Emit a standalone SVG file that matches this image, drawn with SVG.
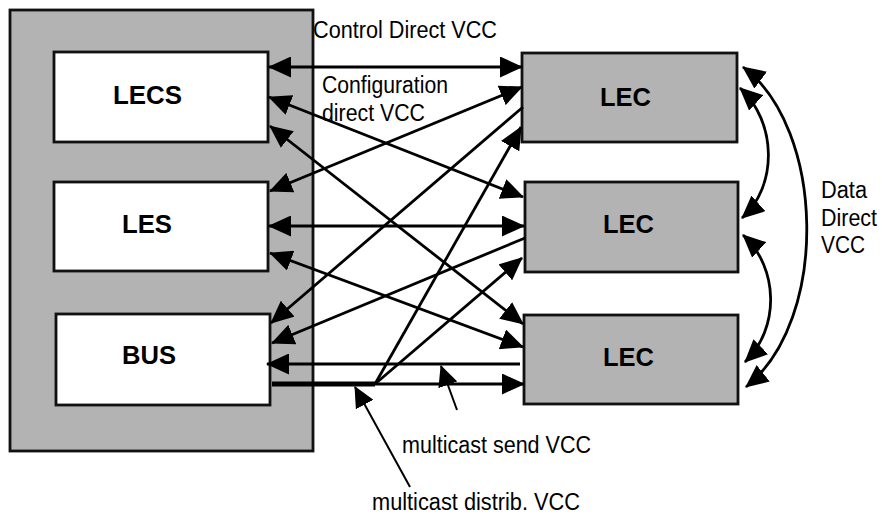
<svg xmlns="http://www.w3.org/2000/svg" width="882" height="525" viewBox="0 0 882 525">
  <style>
    .box { fill: #ffffff; stroke: #111111; stroke-width: 2.8; }
    .gbox { fill: #b3b3b3; stroke: #111111; stroke-width: 2.8; }
    .name { font-family: "Liberation Sans", Arial, sans-serif; font-weight: bold; font-size: 26px; fill: #000; }
    .lbl { font-family: "Liberation Sans", Arial, sans-serif; font-size: 23.5px; fill: #000; }
    .ln { fill: none; stroke: #000; stroke-width: 2.8; }
    .two { marker-start: url(#ah); marker-end: url(#ah); }
    .one { marker-end: url(#ah); }
    .ptr { fill: none; stroke: #000; stroke-width: 2; marker-end: url(#ahs); }
  </style>
  <defs>
    <marker id="ah" viewBox="0 0 23 21" refX="22" refY="10.5" markerWidth="23" markerHeight="21" markerUnits="userSpaceOnUse" orient="auto-start-reverse">
      <path d="M0,0 L23,10.5 L0,21 z" fill="#000"/>
    </marker>
    <marker id="ahs" viewBox="0 0 21 20" refX="20" refY="10" markerWidth="21" markerHeight="20" markerUnits="userSpaceOnUse" orient="auto">
      <path d="M0,0 L21,10 L0,20 z" fill="#000"/>
    </marker>
  </defs>

  <!-- server host frame -->
  <g id="server-host">
    <rect class="gbox" x="10" y="10" width="303" height="441"/>
  </g>

  <g id="lecs">
    <rect class="box" x="54" y="52" width="214" height="90"/>
    <text class="name" x="113" y="104" textLength="69" lengthAdjust="spacingAndGlyphs">LECS</text>
  </g>
  <g id="les">
    <rect class="box" x="54" y="182" width="214" height="89"/>
    <text class="name" x="122" y="233" textLength="50" lengthAdjust="spacingAndGlyphs">LES</text>
  </g>
  <g id="bus">
    <rect class="box" x="56" y="314" width="214" height="91"/>
    <text class="name" x="122" y="364" textLength="54" lengthAdjust="spacingAndGlyphs">BUS</text>
  </g>

  <g id="lec1">
    <rect class="gbox" x="522" y="53" width="215" height="89"/>
    <text class="name" x="600" y="106" textLength="51" lengthAdjust="spacingAndGlyphs">LEC</text>
  </g>
  <g id="lec2">
    <rect class="gbox" x="525" y="182" width="213" height="90"/>
    <text class="name" x="603" y="233" textLength="51" lengthAdjust="spacingAndGlyphs">LEC</text>
  </g>
  <g id="lec3">
    <rect class="gbox" x="524" y="315" width="214" height="89"/>
    <text class="name" x="603" y="366" textLength="51" lengthAdjust="spacingAndGlyphs">LEC</text>
  </g>

  <g id="connectors">
    <!-- LECS links -->
    <line class="ln two" x1="269" y1="67" x2="522" y2="67"/>
    <line class="ln two" x1="269" y1="97" x2="523" y2="197"/>
    <line class="ln two" x1="270" y1="126" x2="523" y2="324"/>
    <!-- LES links -->
    <line class="ln two" x1="270" y1="191" x2="522" y2="87"/>
    <line class="ln two" x1="269" y1="226" x2="524" y2="226"/>
    <line class="ln two" x1="270" y1="253" x2="523" y2="347"/>
    <!-- multicast send towards BUS -->
    <line class="ln one" x1="523" y1="107" x2="271" y2="323"/>
    <line class="ln one" x1="525" y1="238" x2="272" y2="343"/>
    <line class="ln one" x1="520" y1="364" x2="267" y2="364"/>
    <!-- multicast distribution from BUS -->
    <line x1="272" y1="384" x2="375" y2="384" stroke="#000" stroke-width="5"/>
    <line class="ln one" x1="375" y1="384" x2="521" y2="127"/>
    <line class="ln one" x1="375" y1="384" x2="522" y2="258"/>
    <line class="ln one" x1="372" y1="384" x2="524" y2="384"/>
    <!-- data direct VCCs between clients -->
    <path class="ln two" d="M740,88 C777,122 778,186 742,218"/>
    <path class="ln two" d="M743,235 C779,268 780,328 745,362"/>
    <path class="ln two" d="M743,67 C825,128 830,320 746,387"/>
    <!-- label pointers -->
    <line class="ptr" x1="457" y1="410" x2="441" y2="366"/>
    <line class="ptr" x1="410" y1="487" x2="355" y2="387"/>
  </g>

  <g id="labels">
    <text class="lbl" x="313" y="38" textLength="184" lengthAdjust="spacingAndGlyphs">Control Direct VCC</text>
    <text class="lbl" x="322" y="93" textLength="126" lengthAdjust="spacingAndGlyphs">Configuration</text>
    <text class="lbl" x="322" y="121" textLength="103" lengthAdjust="spacingAndGlyphs">direct VCC</text>
    <text class="lbl" x="821" y="198" textLength="46" lengthAdjust="spacingAndGlyphs">Data</text>
    <text class="lbl" x="821" y="226" textLength="56" lengthAdjust="spacingAndGlyphs">Direct</text>
    <text class="lbl" x="821" y="253" textLength="44" lengthAdjust="spacingAndGlyphs">VCC</text>
    <text class="lbl" x="402" y="453" textLength="189" lengthAdjust="spacingAndGlyphs">multicast send VCC</text>
    <text class="lbl" x="372" y="510" textLength="208" lengthAdjust="spacingAndGlyphs">multicast distrib. VCC</text>
  </g>
</svg>
